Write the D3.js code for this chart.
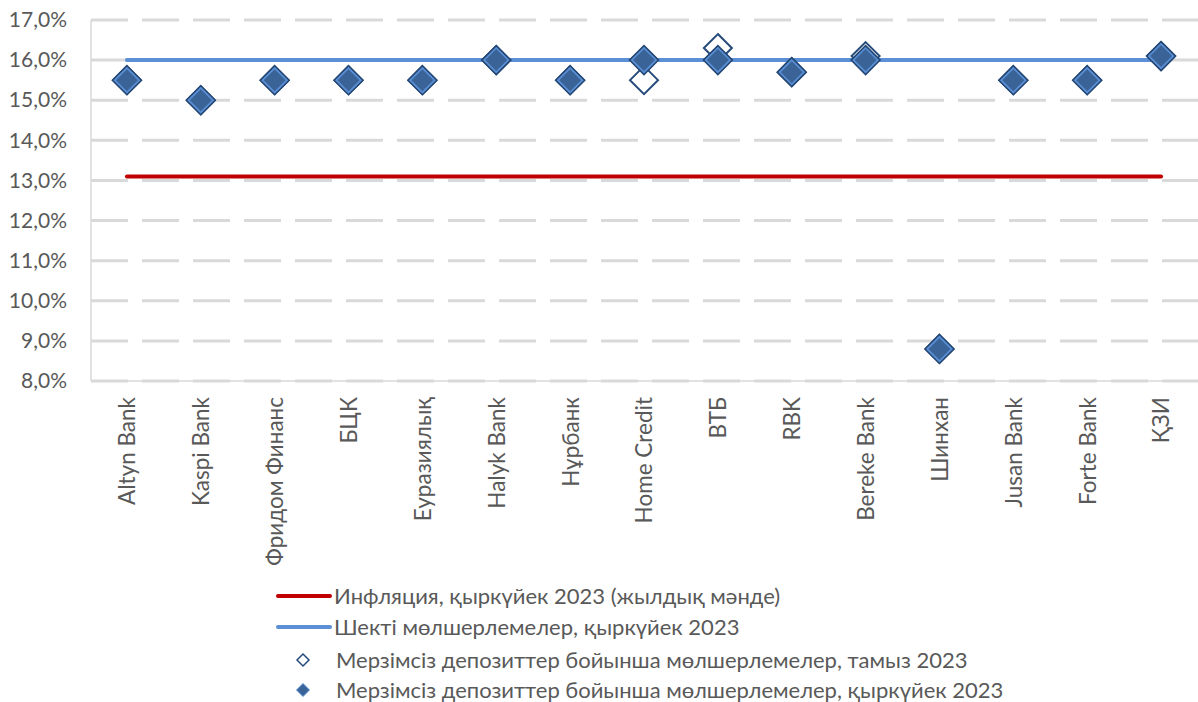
<!DOCTYPE html>
<html>
<head>
<meta charset="utf-8">
<script src="https://d3js.org/d3.v7.min.js"></script>
<style>
  body { margin: 0; background: #fff; }
  text { font-family: Lato, "Open Sans", sans-serif; fill: #595959; }
</style>
</head>
<body>
<div id="chart"></div>
<script>
// Banks on the x axis
var banks = ["Altyn Bank", "Kaspi Bank", "Фридом Финанс", "БЦК", "Еуразиялық", "Halyk Bank",
    "Нұрбанк", "Home Credit", "ВТБ", "RBK", "Bereke Bank", "Шинхан", "Jusan Bank", "Forte Bank", "ҚЗИ"];

// Rates, % (August and September 2023)
var augRates = [15.5, 15.0, 15.5, 15.5, 15.5, 16.0, 15.5, 15.5, 16.3, 15.7, 16.1, 8.8, 15.5, 15.5, 16.1];
var sepRates = [15.5, 15.0, 15.5, 15.5, 15.5, 16.0, 15.5, 16.0, 16.0, 15.7, 16.0, 8.8, 15.5, 15.5, 16.1];

var inflation = 13.1;
var limitRate = 16.0;

var yTicks = [8, 9, 10, 11, 12, 13, 14, 15, 16, 17];

var legendLabels = [
    "Инфляция, қыркүйек 2023 (жылдық мәнде)",
    "Шекті мөлшерлемелер, қыркүйек 2023",
    "Мерзімсіз депозиттер бойынша мөлшерлемелер, тамыз 2023",
    "Мерзімсіз депозиттер бойынша мөлшерлемелер, қыркүйек 2023"
];

var svgWidth = 1198, svgHeight = 702;
var margin = { top: 20, right: 0, bottom: 321, left: 90 };
var chartWidth = svgWidth - margin.left - margin.right;
var chartHeight = svgHeight - margin.top - margin.bottom;

var svg = d3.select("#chart").append("svg")
    .attr("width", svgWidth)
    .attr("height", svgHeight);

var chartGroup = svg.append("g")
    .attr("transform", `translate(${margin.left}, ${margin.top})`);

var xScale = d3.scalePoint()
    .domain(banks)
    .range([0, chartWidth])
    .padding(0.5);

var yScale = d3.scaleLinear()
    .domain([8, 17])
    .range([chartHeight, 0]);

var fmt = d => d.toFixed(1).replace(".", ",") + "%";

// gridlines (dashed)
chartGroup.selectAll(".grid")
    .data(yTicks)
    .enter()
    .append("line")
    .attr("x1", 1)
    .attr("x2", chartWidth)
    .attr("y1", d => yScale(d))
    .attr("y2", d => yScale(d))
    .attr("stroke", "#d9d9d9")
    .attr("stroke-width", 3)
    .attr("stroke-dasharray", "37,14");

// y axis line
chartGroup.append("line")
    .attr("x1", 1).attr("x2", 1)
    .attr("y1", 0).attr("y2", chartHeight)
    .attr("stroke", "#d9d9d9")
    .attr("stroke-width", 1.5);

// x axis line
chartGroup.append("line")
    .attr("x1", 1).attr("x2", chartWidth)
    .attr("y1", chartHeight).attr("y2", chartHeight)
    .attr("stroke", "#d9d9d9")
    .attr("stroke-width", 1.5);

// y axis labels
var leftAxis = d3.axisLeft(yScale).tickValues(yTicks).tickFormat(fmt).tickSize(0).tickPadding(23);
var yAxisG = chartGroup.append("g").call(leftAxis);
yAxisG.select(".domain").remove();
yAxisG.selectAll("text")
    .style("font-size", "21px")
    .style("font-family", "Lato, 'Open Sans', sans-serif")
    .attr("fill", "#595959");

// x axis labels
var bottomAxis = d3.axisBottom(xScale).tickSize(0);
var xAxisG = chartGroup.append("g")
    .attr("transform", `translate(0, ${chartHeight})`)
    .call(bottomAxis);
xAxisG.select(".domain").remove();
xAxisG.selectAll("text")
    .attr("transform", "rotate(-90)")
    .attr("x", -16)
    .attr("y", 0)
    .attr("dy", "0.35em")
    .attr("text-anchor", "end")
    .style("font-size", "22.5px")
    .style("font-family", "Lato, 'Open Sans', sans-serif")
    .attr("fill", "#595959");

var first = banks[0], last = banks[banks.length - 1];

// inflation line
chartGroup.append("line")
    .attr("x1", xScale(first)).attr("x2", xScale(last))
    .attr("y1", yScale(inflation)).attr("y2", yScale(inflation))
    .attr("stroke", "#c00000")
    .attr("stroke-width", 4)
    .attr("stroke-linecap", "round");

// limit line
chartGroup.append("line")
    .attr("x1", xScale(first)).attr("x2", xScale(last))
    .attr("y1", yScale(limitRate)).attr("y2", yScale(limitRate))
    .attr("stroke", "#5b8fd6")
    .attr("stroke-width", 4)
    .attr("stroke-linecap", "round");

function diamond(r) {
    return `M0,${-r}L${r},0L0,${r}L${-r},0Z`;
}

// August markers (hollow)
chartGroup.selectAll(".aug")
    .data(augRates)
    .enter()
    .append("path")
    .attr("d", diamond(14))
    .attr("transform", (d, i) => `translate(${xScale(banks[i])}, ${yScale(d)})`)
    .attr("fill", "#fff")
    .attr("stroke", "#264a7a")
    .attr("stroke-width", 2);

// September markers (filled)
var sepG = chartGroup.selectAll(".sep")
    .data(sepRates)
    .enter()
    .append("g")
    .attr("transform", (d, i) => `translate(${xScale(banks[i])}, ${yScale(d)})`);
sepG.append("path")
    .attr("d", diamond(14.5))
    .attr("fill", "#5b8fd6")
    .attr("stroke", "#234672")
    .attr("stroke-width", 1.5);
sepG.append("path")
    .attr("d", diamond(11))
    .attr("fill", "#3a6497");

// legend
var legend = svg.append("g").attr("transform", "translate(276, 596)");
var rowY = [0, 31, 64, 94];
legendLabels.forEach(function (label, i) {
    var row = legend.append("g").attr("transform", `translate(0, ${rowY[i]})`);
    if (i === 0 || i === 1) {
        row.append("line")
            .attr("x1", 2).attr("x2", 54)
            .attr("y1", 0).attr("y2", 0)
            .attr("stroke", i === 0 ? "#c00000" : "#5b8fd6")
            .attr("stroke-width", 4)
            .attr("stroke-linecap", "round");
    } else if (i === 2) {
        row.append("path")
            .attr("d", diamond(6))
            .attr("transform", "translate(27, 0)")
            .attr("fill", "#fff")
            .attr("stroke", "#264a7a")
            .attr("stroke-width", 1.5);
    } else {
        row.append("path")
            .attr("d", diamond(6.5))
            .attr("transform", "translate(27, 0)")
            .attr("fill", "#3a6497")
            .attr("stroke", "#5b8fd6")
            .attr("stroke-width", 1);
    }
    row.append("text")
        .attr("x", i < 2 ? 58 : 60)
        .attr("y", 0)
        .attr("dy", "0.35em")
        .style("font-size", "22px")
        .text(label);
});
</script>
</body>
</html>
